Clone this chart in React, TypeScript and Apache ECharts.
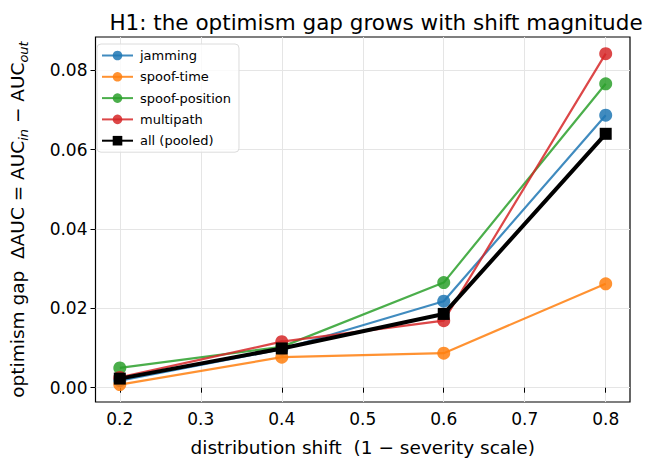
import React, { useEffect, useRef } from "react";
import * as echarts from "echarts";

const shifts = [0.2, 0.4, 0.6, 0.8];
const jamming = [0.0018, 0.0097, 0.0218, 0.0687];
const spoofTime = [0.0008, 0.0077, 0.0087, 0.0262];
const spoofPosition = [0.005, 0.0103, 0.0265, 0.0766];
const multipath = [0.0026, 0.0116, 0.0169, 0.0842];
const pooled = [0.0023, 0.0099, 0.0186, 0.064];

const seriesNames = ["jamming", "spoof-time", "spoof-position", "multipath", "all (pooled)"];
const seriesValues = [jamming, spoofTime, spoofPosition, multipath, pooled];
const seriesColors = ["#1f77b4", "#ff7f0e", "#2ca02c", "#d62728", "#000000"];

const xTicks = [0.2, 0.3, 0.4, 0.5, 0.6, 0.7, 0.8];
const yTicks = [0, 0.02, 0.04, 0.06, 0.08];

const FONT = "DejaVu Sans";

export default function App() {
  const ref = useRef<HTMLDivElement>(null);
  useEffect(() => {
    document.body.style.margin = "0";
    const chart = echarts.init(ref.current!, null, { renderer: "svg" });
    const series = seriesNames.map((name, i) => {
      const isPooled = i === 4;
      return {
        name,
        type: "line",
        data: shifts.map((x, j) => [x, seriesValues[i][j]]),
        symbol: isPooled ? "rect" : "circle",
        symbolSize: isPooled ? 12 : 13,
        z: isPooled ? 10 : 2 + i,
        lineStyle: { color: seriesColors[i], width: isPooled ? 4 : 2.2, opacity: isPooled ? 1 : 0.85 },
        itemStyle: { color: seriesColors[i], opacity: isPooled ? 1 : 0.85 },
        emphasis: { disabled: true },
      };
    });
    chart.setOption({
      animation: false,
      textStyle: { fontFamily: FONT },
      title: {
        text: "H1: the optimism gap grows with shift magnitude",
        left: 371,
        textAlign: "center",
        top: 6,
        textStyle: { fontFamily: FONT, fontSize: 21.5, fontWeight: "normal", color: "#000" },
      },
      legend: {
        orient: "vertical",
        left: 97,
        top: 44,
        padding: [5, 8, 5, 4],
        itemWidth: 31,
        itemHeight: 12,
        itemGap: 8.3,
        borderColor: "#dcdcdc",
        borderWidth: 1,
        borderRadius: 4,
        backgroundColor: "rgba(255,255,255,0.8)",
        textStyle: { fontFamily: FONT, fontSize: 13, color: "#000", padding: [0, 0, 0, 2] },
        data: seriesNames,
      },
      grid: {
        left: 92,
        right: 20,
        top: 37,
        bottom: 60,
        show: true,
        borderColor: "#000",
        borderWidth: 1.2,
        backgroundColor: "transparent",
      },
      xAxis: {
        type: "value",
        min: 0.17,
        max: 0.83,
        name: "distribution shift  (1 − severity scale)",
        nameLocation: "middle",
        nameGap: 36,
        nameTextStyle: { fontFamily: FONT, fontSize: 18.5, color: "#000" },
        axisLine: { show: false },
        axisTick: { show: true, length: 5, lineStyle: { color: "#000", width: 1 }, customValues: xTicks },
        axisLabel: {
          customValues: xTicks,
          margin: 8,
          fontFamily: FONT,
          fontSize: 17,
          color: "#000",
          formatter: (v: number) => v.toFixed(1),
        },
        splitLine: { show: true, lineStyle: { color: "#e5e5e5", width: 1 } },
      },
      yAxis: {
        type: "value",
        min: -0.0036,
        max: 0.0884,
        name: "{a|optimism gap  ΔAUC = AUC}{s|in}{a| − AUC}{s|out}",
        nameLocation: "middle",
        nameRotate: 90,
        nameGap: 66,
        nameTextStyle: {
          fontFamily: FONT,
          color: "#000",
          rich: {
            a: { fontFamily: FONT, fontSize: 18.5, lineHeight: 24, color: "#000" },
            s: { fontFamily: FONT, fontSize: 13, fontStyle: "italic", lineHeight: 14, verticalAlign: "bottom", color: "#000" },
          },
        },
        axisLine: { show: false },
        axisTick: { show: true, length: 5, lineStyle: { color: "#000", width: 1 }, customValues: yTicks },
        axisLabel: {
          customValues: yTicks,
          margin: 8,
          fontFamily: FONT,
          fontSize: 17,
          color: "#000",
          formatter: (v: number) => v.toFixed(2),
        },
        splitLine: { show: true, lineStyle: { color: "#e5e5e5", width: 1 } },
      },
      series,
    });
    return () => chart.dispose();
  }, []);
  return <div ref={ref} style={{ width: 650, height: 462 }} />;
}
